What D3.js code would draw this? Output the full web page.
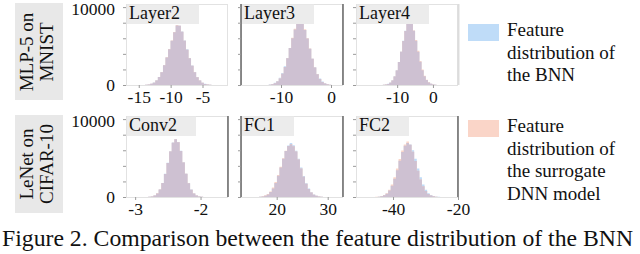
<!DOCTYPE html>
<html>
<head>
<meta charset="utf-8">
<script src="https://cdn.jsdelivr.net/npm/d3@7"></script>
<style>
  body { margin: 0; background: #fff; }
</style>
</head>
<body>
<svg id="chart" width="640" height="254"></svg>
<script>
// ---- data ----
const rowLabels = [["MLP-5 on", "MNIST"], ["LeNet on", "CIFAR-10"]];
const panelTitles = ["Layer2", "Layer3", "Layer4", "Conv2", "FC1", "FC2"];
const xDomains = [[-17, -1], [-18, 2.4], [-21.5, 7], [-3.14, -1.58], [13, 33], [-51.4, -20]];
const xTickValues = [[-15, -10, -5], [-10, 0], [-10, 0], [-3, -2], [20, 30], [-40, -20]];
const yTickValues = [0, 2000, 4000, 6000, 8000, 10000];
const yLabelValues = [0, 10000];
const binStart = [-14.0, -12.45, -14.0, -2.84, 16.55, -45.5];
const binWidth = [0.4, 0.5, 0.6, 0.04, 0.5, 0.8];

// BNN feature histogram counts per panel
const bnnCounts = [
  [30, 75, 155, 310, 600, 1040, 1660, 2550, 3540, 4580, 5670, 6760, 7650, 7600, 6860, 5720, 4580, 3480, 2500, 1660, 1020, 580, 300, 145, 62, 26],
  [63, 137, 275, 517, 918, 1530, 2395, 3480, 4750, 6010, 7120, 7860, 8070, 7860, 7070, 5960, 4660, 3380, 2270, 1420, 820, 440, 220, 105, 47],
  [21, 63, 146, 314, 606, 1108, 1881, 2957, 4274, 5685, 6960, 7880, 8150, 7840, 6950, 5695, 4285, 2978, 1902, 1129, 627, 324, 157, 68, 26],
  [11, 27, 74, 191, 456, 954, 1800, 2970, 4400, 5880, 7000, 7420, 7050, 5940, 4450, 2990, 1800, 954, 456, 191, 74, 27, 11],
  [32, 79, 168, 336, 630, 1100, 1806, 2730, 3800, 4914, 5900, 6615, 6930, 6650, 5930, 4925, 3780, 2690, 1775, 1080, 620, 325, 158, 74, 32],
  [16, 40, 93, 211, 433, 833, 1456, 2342, 3440, 4640, 5770, 6590, 6940, 6730, 6010, 4905, 3670, 2530, 1600, 930, 496, 243, 105, 47, 19]
];
// surrogate DNN feature histogram counts per panel
const dnnCounts = [
  [28, 70, 150, 300, 590, 1030, 1650, 2540, 3560, 4620, 5720, 6800, 7700, 7620, 6840, 5680, 4540, 3440, 2460, 1630, 1000, 570, 295, 140, 60, 25],
  [42, 105, 220, 440, 845, 1455, 2320, 3430, 4750, 6070, 7230, 8020, 8330, 8020, 7170, 6010, 4700, 3380, 2240, 1370, 770, 400, 190, 85, 37],
  [21, 57, 136, 293, 585, 1087, 1860, 2947, 4264, 5664, 6939, 7890, 8255, 7900, 7000, 5770, 4390, 3083, 1985, 1200, 680, 355, 172, 73, 31],
  [13, 30, 80, 200, 466, 965, 1800, 2960, 4380, 5850, 6970, 7400, 7020, 5900, 4430, 2970, 1780, 933, 445, 180, 69, 23, 8],
  [42, 100, 210, 400, 714, 1208, 1911, 2835, 3885, 4990, 5930, 6560, 6770, 6510, 5830, 4830, 3675, 2600, 1700, 1030, 590, 305, 147, 65, 27],
  [19, 47, 105, 243, 496, 930, 1600, 2550, 3670, 4870, 5960, 6750, 7120, 6700, 5800, 4620, 3380, 2260, 1370, 770, 400, 190, 82, 34, 13]
];
const legendLabels = [
  ["Feature", "distribution of", "the BNN"],
  ["Feature", "distribution of", "the surrogate", "DNN model"]
];
const captionText = "Figure 2. Comparison between the feature distribution of the BNN";

// ---- layout ----
const FONT = "Liberation Serif";
const svg = d3.select("#chart");
const colX = [126, 241, 356];
const rowY = [4, 116];
const panelW = 102, panelH = 81;
const yMax = 10400;
const fillBnn = "#bfdcf8", fillDnn = "#fad5c8", fillBoth = "#cec1d2";
const darkSpines = [[], ["left", "right"], [], ["right"], ["left", "right"], ["right"]];

const y = d3.scaleLinear().domain([0, yMax]).range([panelH, 0]);

// row labels in grey boxes
rowLabels.forEach((lines, r) => {
  svg.append("rect")
    .attr("x", 15).attr("y", rowY[r] - 1)
    .attr("width", 48).attr("height", 97 + r)
    .attr("fill", "#e8e8e8");
  const t = svg.append("g")
    .attr("transform", `translate(39,${rowY[r] + 48}) rotate(-90)`);
  lines.forEach((line, k) => {
    t.append("text")
      .attr("x", 0).attr("y", k === 0 ? -6 : 13.5)
      .attr("text-anchor", "middle")
      .attr("font-family", FONT)
      .attr("font-size", "19px")
      .attr("fill", "#111")
      .text(line);
  });
});

panelTitles.forEach((title, i) => {
  const row = Math.floor(i / 3), col = i % 3;
  const g = svg.append("g").attr("transform", `translate(${colX[col]},${rowY[row]})`);
  const x = d3.scaleLinear().domain(xDomains[i]).range([0, panelW]);

  const n = bnnCounts[i].length;
  const edges = d3.range(n + 1).map(k => binStart[i] + k * binWidth[i]);
  const bins = counts => edges.map((e, k) => ({ x: e, c: k < n ? counts[k] : 0 }));
  const area = d3.area()
    .curve(d3.curveStepAfter)
    .x(d => x(d.x))
    .y0(y(0))
    .y1(d => y(d.c));
  const both = bnnCounts[i].map((c, k) => Math.min(c, dnnCounts[i][k]));

  g.append("path").attr("d", area(bins(bnnCounts[i]))).attr("fill", fillBnn);
  g.append("path").attr("d", area(bins(dnnCounts[i]))).attr("fill", fillDnn);
  g.append("path").attr("d", area(bins(both))).attr("fill", fillBoth);

  // light frame
  g.append("rect")
    .attr("x", 0.5).attr("y", 0.5)
    .attr("width", panelW - 1).attr("height", panelH)
    .attr("fill", "none")
    .attr("stroke", "#e2e2e2");

  darkSpines[i].forEach(side => {
    const sx = side === "left" ? 0 : panelW;
    g.append("line")
      .attr("x1", sx).attr("x2", sx)
      .attr("y1", 0).attr("y2", panelH)
      .attr("stroke", "#5c5c5c")
      .attr("stroke-width", 1.4);
  });
  if (i === 2) {
    g.append("line")
      .attr("x1", panelW + 0.5).attr("x2", panelW + 0.5)
      .attr("y1", 0).attr("y2", panelH)
      .attr("stroke", "#dcdcdc")
      .attr("stroke-width", 2);
  }

  // y axis
  const ya = g.append("g")
    .call(d3.axisLeft(y)
      .tickValues(yTickValues)
      .tickSize(3)
      .tickPadding(8)
      .tickFormat(d => (col === 0 && yLabelValues.includes(d)) ? String(d) : ""));
  ya.attr("font-family", FONT).attr("font-size", null);
  ya.select(".domain").remove();
  ya.selectAll(".tick line").attr("stroke", "#9a9a9a");
  ya.selectAll("text")
    .attr("font-family", FONT)
    .attr("font-size", "17.5px")
    .attr("fill", "#111")
    .attr("y", d => d === 10000 ? 2 : 0);

  // x axis
  const xa = g.append("g")
    .attr("transform", `translate(0,${panelH})`)
    .call(d3.axisBottom(x)
      .tickValues(xTickValues[i])
      .tickSize(3)
      .tickPadding(3)
      .tickFormat(d => String(d)));
  xa.attr("font-family", FONT).attr("font-size", null);
  xa.select(".domain").remove();
  xa.selectAll(".tick line").attr("stroke", "#9a9a9a");
  xa.selectAll("text").attr("font-family", FONT).attr("font-size", "17.5px").attr("fill", "#111");

  // panel title in grey box
  const box = g.append("rect")
    .attr("x", 1).attr("y", 0.5)
    .attr("height", 19.5)
    .attr("fill", "#ececec");
  const label = g.append("text")
    .attr("x", 3).attr("y", 14.5)
    .attr("font-family", FONT)
    .attr("font-size", "18px")
    .attr("fill", "#111")
    .text(title);
  box.attr("width", label.node().getComputedTextLength() + 21);
});

// legend
const legendY = [24, 120];
const legendFill = [fillBnn, fillDnn];
legendLabels.forEach((lines, k) => {
  svg.append("rect")
    .attr("x", 468).attr("y", legendY[k])
    .attr("width", 31).attr("height", 17)
    .attr("fill", legendFill[k]);
  lines.forEach((line, j) => {
    svg.append("text")
      .attr("x", 507)
      .attr("y", legendY[k] + 12 + j * 22.5)
      .attr("font-family", FONT)
      .attr("font-size", "19px")
      .attr("fill", "#111")
      .text(line);
  });
});

// caption
const cap = svg.append("text")
  .attr("x", 2).attr("y", 246)
  .attr("font-family", FONT)
  .attr("font-size", "21px")
  .attr("fill", "#111")
  .text(captionText);
const cw = cap.node().getComputedTextLength();
cap.attr("font-size", (21 * 631 / cw).toFixed(2) + "px");
</script>
</body>
</html>
